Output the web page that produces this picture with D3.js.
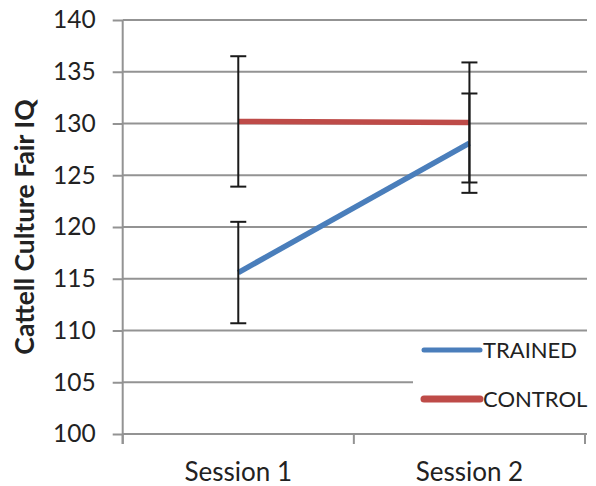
<!DOCTYPE html>
<html>
<head>
<meta charset="utf-8">
<script src="https://cdn.jsdelivr.net/npm/d3@7"></script>
<style>
  html, body { margin: 0; padding: 0; background: #fff; }
  svg { display: block; }
  text { font-family: Lato, "Open Sans", sans-serif; fill: #222; }
</style>
</head>
<body>
<svg id="chart" width="596" height="486"></svg>
<script>
// Session means and error half-widths for the two groups
const categories = ["Session 1", "Session 2"];
const trainedMean = [115.6, 128.1];
const trainedErr = [4.9, 4.8];
const controlMean = [130.2, 130.1];
const controlErr = [6.3, 5.8];
const yTicks = [100, 105, 110, 115, 120, 125, 130, 135, 140];
const seriesNames = ["TRAINED", "CONTROL"];
const seriesColors = ["#4a7ebb", "#be4b48"];

const svg = d3.select("#chart");
const plot = { left: 122.7, right: 585, top: 20, bottom: 434 };

const x = d3.scaleBand().domain(categories).range([plot.left, plot.right]);
const y = d3.scaleLinear().domain([100, 140]).range([plot.bottom, plot.top]);
const cx = c => x(c) + x.bandwidth() / 2;

const fontSize = 24.5;
const gridColor = "#939393";

// Horizontal gridlines
svg.append("g")
  .selectAll("line")
  .data(yTicks)
  .join("line")
  .attr("x1", plot.left)
  .attr("x2", plot.right + 2)
  .attr("y1", d => y(d))
  .attr("y2", d => y(d))
  .attr("stroke", gridColor)
  .attr("stroke-width", 2);

// Y axis
const yAxis = svg.append("g")
  .attr("transform", `translate(${plot.left},0)`)
  .call(d3.axisLeft(y).tickValues(yTicks).tickSize(10).tickPadding(17).tickFormat(d3.format("d")));
yAxis.select(".domain").attr("stroke", gridColor).attr("stroke-width", 2)
  .attr("d", `M0,${plot.top}V${plot.bottom + 10}`);
yAxis.selectAll(".tick line").attr("stroke", gridColor).attr("stroke-width", 2);
yAxis.selectAll(".tick text")
  .style("font-family", "Lato, sans-serif")
  .style("font-size", fontSize + "px")
  .attr("fill", "#222");

// X axis
const xAxis = svg.append("g")
  .attr("transform", `translate(0,${plot.bottom})`);
xAxis.append("line")
  .attr("x1", plot.left).attr("x2", plot.right)
  .attr("stroke", gridColor).attr("stroke-width", 2);
const boundaries = categories.map(c => x(c)).concat([x(categories[categories.length - 1]) + x.bandwidth()]);
xAxis.selectAll("line.tk")
  .data(boundaries)
  .join("line")
  .attr("class", "tk")
  .attr("x1", d => d).attr("x2", d => d)
  .attr("y1", 0).attr("y2", 10)
  .attr("stroke", gridColor).attr("stroke-width", 2);
xAxis.selectAll("text")
  .data(categories)
  .join("text")
  .attr("x", d => cx(d))
  .attr("y", 47)
  .attr("text-anchor", "middle")
  .style("font-size", "26px")
  .text(d => d);

// Y axis title
svg.append("text")
  .attr("transform", `translate(34,${(plot.top + plot.bottom) / 2}) rotate(-90)`)
  .attr("text-anchor", "middle")
  .style("font-size", "26.5px")
  .style("font-weight", "bold")
  .text("Cattell Culture Fair IQ");

// Legend box (white background hides gridlines behind it)
const legend = svg.append("g");
legend.append("rect")
  .attr("x", 413).attr("y", 335).attr("width", 180).attr("height", 88)
  .attr("fill", "#fff");

// Series lines
const line = d3.line().x((d, i) => cx(categories[i])).y(d => y(d));
const series = [
  { name: seriesNames[1], mean: controlMean, err: controlErr, color: seriesColors[1], width: 5.5 },
  { name: seriesNames[0], mean: trainedMean, err: trainedErr, color: seriesColors[0], width: 5.5 }
];
svg.append("g")
  .selectAll("path")
  .data(series)
  .join("path")
  .attr("d", d => line(d.mean))
  .attr("fill", "none")
  .attr("stroke", d => d.color)
  .attr("stroke-width", d => d.width);

// Error bars
const errData = [];
series.forEach(s => s.mean.forEach((m, i) => errData.push({ c: categories[i], lo: m - s.err[i], hi: m + s.err[i] })));
const eb = svg.append("g").attr("stroke", "#1a1a1a").attr("stroke-width", 2);
eb.selectAll("line.v")
  .data(errData).join("line").attr("class", "v")
  .attr("x1", d => cx(d.c)).attr("x2", d => cx(d.c))
  .attr("y1", d => y(d.hi)).attr("y2", d => y(d.lo));
eb.selectAll("line.hi")
  .data(errData).join("line").attr("class", "hi")
  .attr("x1", d => cx(d.c) - 8).attr("x2", d => cx(d.c) + 8)
  .attr("y1", d => y(d.hi)).attr("y2", d => y(d.hi));
eb.selectAll("line.lo")
  .data(errData).join("line").attr("class", "lo")
  .attr("x1", d => cx(d.c) - 8).attr("x2", d => cx(d.c) + 8)
  .attr("y1", d => y(d.lo)).attr("y2", d => y(d.lo));

// Legend entries
const legendItems = [
  { name: seriesNames[0], color: seriesColors[0], width: 5, y: 350 },
  { name: seriesNames[1], color: seriesColors[1], width: 7, y: 399 }
];
legend.selectAll("line")
  .data(legendItems).join("line")
  .attr("x1", 424).attr("x2", 480)
  .attr("y1", d => d.y).attr("y2", d => d.y)
  .attr("stroke", d => d.color)
  .attr("stroke-width", d => d.width)
  .attr("stroke-linecap", "round");
legend.selectAll("text")
  .data(legendItems).join("text")
  .attr("x", 483)
  .attr("y", d => d.y + 8)
  .style("font-size", "22px")
  .text(d => d.name);
</script>
</body>
</html>
